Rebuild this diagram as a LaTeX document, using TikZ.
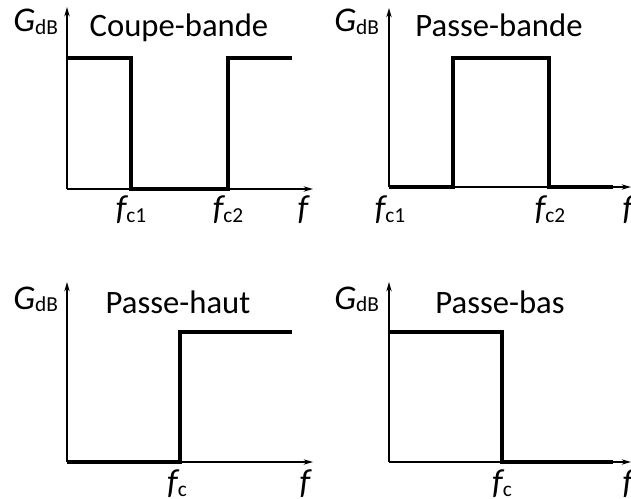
\documentclass[tikz,border=0pt]{standalone}
\usepackage{fontspec}
\setmainfont{Carlito}
\usetikzlibrary{arrows.meta}
\newcommand\Gdb{{\fontsize{26}{30}\selectfont\itshape G}\raisebox{-2pt}{\fontsize{16}{16}\selectfont dB}}
\newcommand\fsub[1]{{\fontsize{26}{30}\selectfont\itshape f}\raisebox{-2.5pt}{\fontsize{16}{16}\selectfont #1}}
\begin{document}
\begin{tikzpicture}[x=0.75pt,y=-0.75pt,
  axis/.style={line width=1.1pt,-{Stealth[length=7pt,width=4pt]}},
  resp/.style={line width=2.6pt,line join=miter},
  lbl/.style={inner sep=0pt,anchor=base,font=\fontsize{24.5}{28}\selectfont},
]
\useasboundingbox (0,0) rectangle (631,499);

% Panel A : Coupe-bande
\draw[axis] (67,189) -- (67,7);
\draw[axis] (67,189) -- (313,189);
\draw[resp] (67,58) -- (131,58) -- (131,189) -- (228,189) -- (228,58) -- (292,58);
\node[lbl,anchor=base west] (gA) at (13,32) {\Gdb};
\node[lbl] (tA) at (179,37) {Coupe-bande};
\node[lbl] (f1A) at (131,219) {\fsub{c1}};
\node[lbl] (f2A) at (228,219) {\fsub{c2}};
\node[lbl] (fA) at (303,219) {\fontsize{26}{30}\selectfont\itshape f};

% Panel B : Passe-bande
\draw[axis] (389,187) -- (389,8);
\draw[axis] (389,187) -- (631,187);
\draw[resp] (389,187) -- (453,187) -- (453,58) -- (549,58) -- (549,187) -- (613,187);
\node[lbl,anchor=base west] (gB) at (334,32) {\Gdb};
\node[lbl] (tB) at (499,37) {Passe-bande};
\node[lbl] (f1B) at (390,219) {\fsub{c1}};
\node[lbl] (f2B) at (550,219) {\fsub{c2}};
\node[lbl] (fB) at (628,219) {\fontsize{26}{30}\selectfont\itshape f};

% Panel C : Passe-haut
\draw[axis] (67,462) -- (67,282);
\draw[axis] (67,462) -- (313,462);
\draw[resp] (67,462) -- (180,462) -- (180,332) -- (292,332);
\node[lbl,anchor=base west] (gC) at (13,309) {\Gdb};
\node[lbl] (tC) at (178,313) {Passe-haut};
\node[lbl] (fcC) at (177,493) {\fsub{c}};
\node[lbl] (fC) at (305,493) {\fontsize{26}{30}\selectfont\itshape f};

% Panel D : Passe-bas
\draw[axis] (389,462) -- (389,282);
\draw[axis] (389,462) -- (631,462);
\draw[resp] (389,332) -- (502,332) -- (502,462) -- (613,462);
\node[lbl,anchor=base west] (gD) at (334,309) {\Gdb};
\node[lbl] (tD) at (500,313) {Passe-bas};
\node[lbl] (fcD) at (502,493) {\fsub{c}};
\node[lbl] (fD) at (628,493) {\fontsize{26}{30}\selectfont\itshape f};
\end{tikzpicture}
\end{document}
